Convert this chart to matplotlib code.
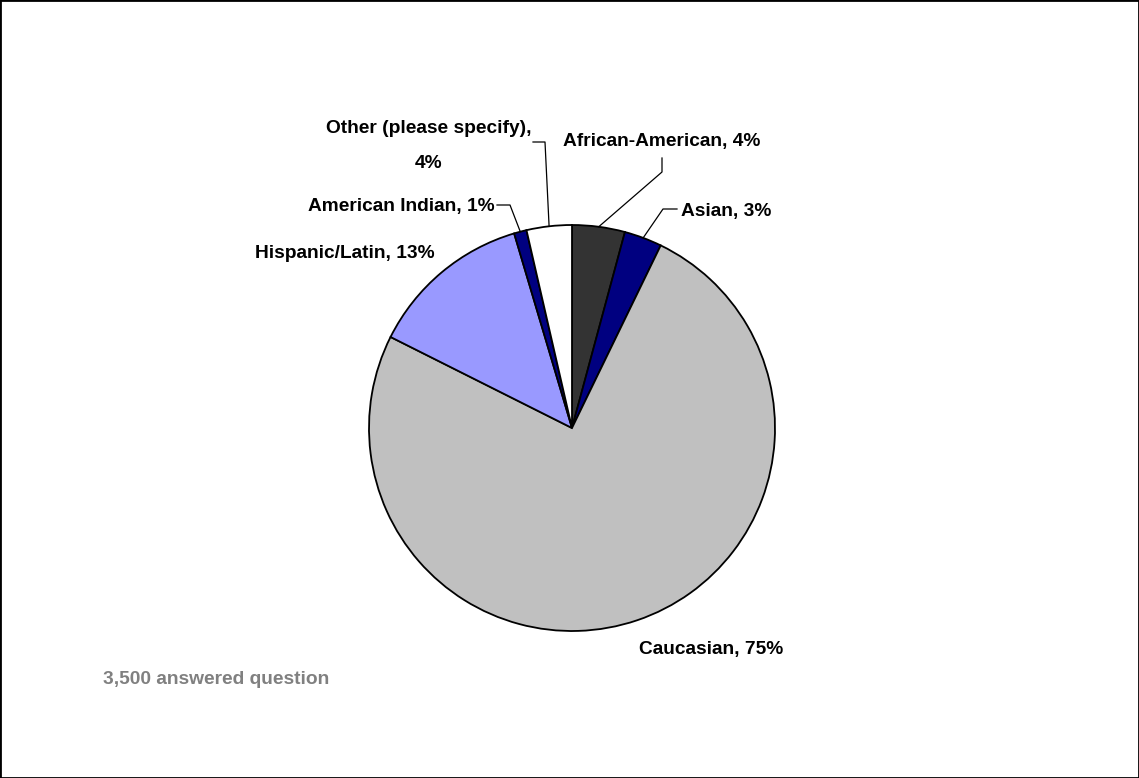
import matplotlib
matplotlib.use("Agg")
import matplotlib.pyplot as plt
import numpy as np
from matplotlib.patches import Rectangle

categories = ["African-American", "Asian", "Caucasian", "Hispanic/Latin",
              "American Indian", "Other (please specify)"]
shares = [4.2, 3.0, 75.2, 13.0, 1.0, 3.6]
colors = ["#333333", "#000080", "#C0C0C0", "#9999FF", "#000080", "#FFFFFF"]
respondents = "3,500 answered question"

plt.rcParams["font.family"] = ["Liberation Sans", "DejaVu Sans"]
FS = 13.75

W, H = 1139, 778
fig = plt.figure(figsize=(W / 100, H / 100), dpi=100)
cx, cy, r = 572, 428, 203
ax = fig.add_axes([(cx - r) / W, (H - cy - r) / H, 2 * r / W, 2 * r / H])

wedges, _ = ax.pie(shares, colors=colors, startangle=90, counterclock=False,
                   radius=1.0,
                   wedgeprops=dict(edgecolor="black", linewidth=1.3))
ax.set_xlim(-1, 1)
ax.set_ylim(-1, 1)
ax.set_aspect("equal")
ax.axis("off")


def px(x, y):
    return (x - cx) / r, (cy - y) / r


def mid_point(i):
    w = wedges[i]
    a = np.deg2rad((w.theta1 + w.theta2) / 2)
    return np.cos(a), np.sin(a)


labels = [f"{c}, {round(s)}%" for c, s in zip(categories, shares)]
labels[5] = f"{categories[5]},\n{round(shares[5])}%"

# (text anchor px, ha, leader polyline px or None)
layout = [
    ((563, 142), "left", [(662, 158), (662, 172)]),
    ((681, 212), "left", [(677, 209), (663, 209)]),
    ((783, 650), "right", None),
    ((435, 254), "right", None),
    ((495, 207), "right", [(497, 205), (510, 205)]),
    ((429, 146), "center", [(533, 142), (545, 142)]),
]

for i, ((tx, ty), ha, leader) in enumerate(layout):
    x, y = px(tx, ty)
    ax.text(x, y, labels[i], ha=ha, va="center", fontsize=FS,
            fontweight="bold", linespacing=2.35, clip_on=False)
    if leader:
        pts = [px(*p) for p in leader] + [mid_point(i)]
        xs, ys = zip(*pts)
        ax.plot(xs, ys, color="black", linewidth=0.9, clip_on=False)

fig.text(103 / W, 1 - 680 / H, respondents, ha="left", va="center",
         fontsize=FS, fontweight="bold", color="#808080")

fig.patches.append(Rectangle((0, 0), 1, 1, transform=fig.transFigure,
                             fill=False, edgecolor="black", linewidth=2))

fig.savefig("out.png", dpi=100, facecolor="white")
